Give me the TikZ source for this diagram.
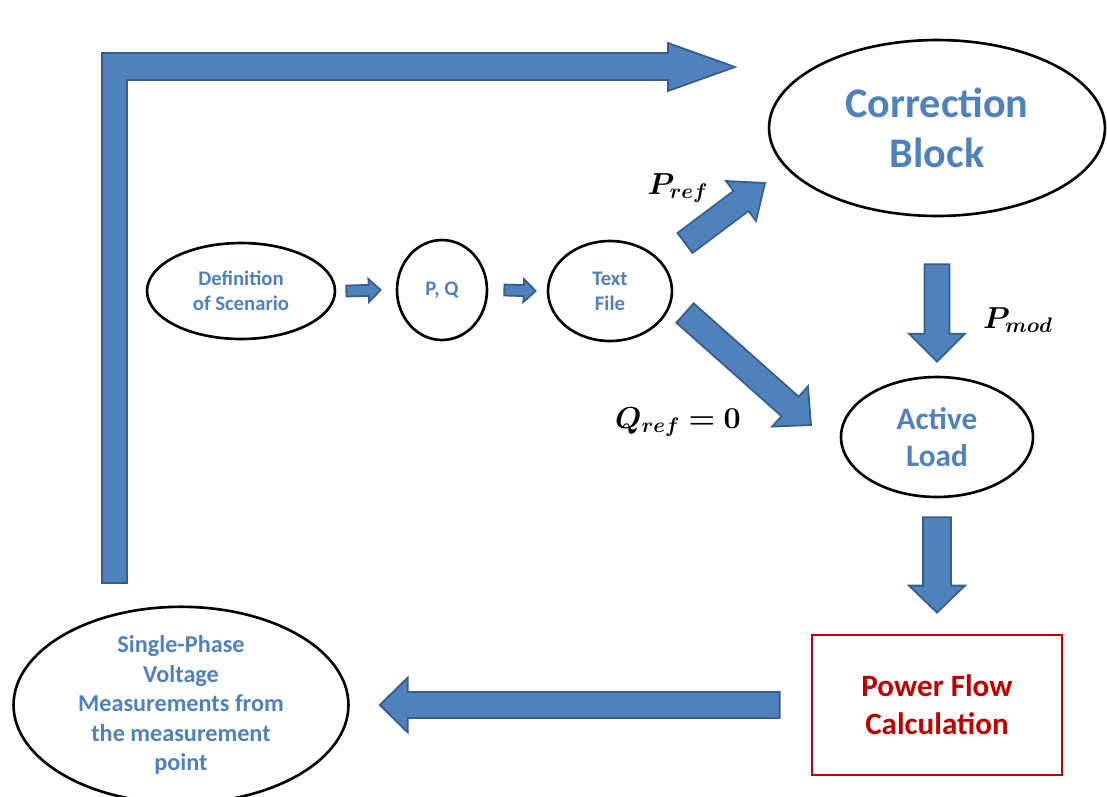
\documentclass[tikz,border=0pt]{standalone}
\usepackage{amsmath,bm}
\usepackage{fontspec}
\setmainfont{Carlito}
\usepackage{tikz}
\usetikzlibrary{calc, shapes.geometric}
\definecolor{OfficeBlue}{HTML}{4F81BD}
\definecolor{OfficeEdge}{HTML}{385D8A}
\definecolor{OfficeRed}{HTML}{C00000}

\tikzset{
  bubble/.style={ellipse, draw=black, line width=1.5pt, inner sep=0pt,
    align=center, text=OfficeBlue, font=\bfseries},
  fatarrow/.style={fill=OfficeBlue, draw=OfficeEdge, line width=1pt, line join=miter},
  mathlabel/.style={font=\fontsize{17.5}{20}\selectfont, inner sep=0pt}
}

% block arrow: from, to, shaft half width, head half width, head length
\newcommand{\blockarrow}[5]{%
  \coordinate (ba-s) at (#1);
  \coordinate (ba-t) at (#2);
  \coordinate (ba-h) at ($(ba-t)!#5!(ba-s)$);
  \filldraw[fatarrow] ($(ba-s)!#3!90:(ba-t)$) -- ($(ba-h)!#3!90:(ba-t)$)
    -- ($(ba-h)!#4!90:(ba-t)$) -- (ba-t) -- ($(ba-h)!#4!-90:(ba-t)$)
    -- ($(ba-h)!#3!-90:(ba-t)$) -- ($(ba-s)!#3!-90:(ba-t)$) -- cycle;
}

\begin{document}
\begin{tikzpicture}[x=0.02cm, y=-0.02cm]
  \useasboundingbox (0,0) rectangle (1107,796);

  % nodes
  \node[bubble, minimum width=6.72cm, minimum height=3.52cm,
    font=\bfseries\fontsize{24}{28.5}\selectfont] (corr) at (937,128) {Correction\\Block};
  \node[bubble, minimum width=3.76cm, minimum height=1.92cm,
    font=\bfseries\fontsize{11.8}{14.2}\selectfont] (scen) at (241,291) {Definition\\of Scenario};
  \node[bubble, minimum width=1.8cm, minimum height=2cm,
    font=\bfseries\fontsize{11.8}{14.2}\selectfont] (pq) at (442,290) {P, Q};
  \node[bubble, minimum width=2.48cm, minimum height=2cm,
    font=\bfseries\fontsize{11.8}{14.2}\selectfont] (txt) at (610,291) {Text\\File};
  \node[bubble, minimum width=3.84cm, minimum height=2.4cm,
    font=\bfseries\fontsize{17.8}{21.3}\selectfont] (load) at (937,437) {Active\\Load};
  \node[draw=OfficeRed, line width=1.6pt, minimum width=5cm, minimum height=2.8cm,
    align=center, text=OfficeRed, font=\bfseries\fontsize{17.7}{21.6}\selectfont]
    (pfc) at (937,705) {Power Flow\\Calculation};
  \node[bubble, minimum width=6.7cm, minimum height=3.68cm,
    font=\bfseries\fontsize{13.8}{16.8}\selectfont] (meas) at (181,705)
    {Single-Phase\\Voltage\\Measurements from\\the measurement\\point};

  % labels
  \node[mathlabel] (pref) at (678,188) {$\bm{P_{ref}}$};
  \node[mathlabel] (qref) at (678,422) {$\bm{Q_{ref}=0}$};
  \node[mathlabel] (pmod) at (1018,320) {$\bm{P_{mod}}$};

  % arrows
  \blockarrow{$(scen.east)+(10,0)$}{$(pq.west)+(-15,0)$}{0.11cm}{0.23cm}{0.24cm}
  \blockarrow{$(pq.east)+(16,0)$}{$(txt.west)+(-11,0)$}{0.11cm}{0.23cm}{0.24cm}
  \blockarrow{685,243}{765,183}{0.25cm}{0.5cm}{0.6cm}
  \blockarrow{685,313}{811,425}{0.26cm}{0.54cm}{0.56cm}
  \blockarrow{$(corr.south)+(0,47)$}{$(load.north)+(0,-14)$}{0.25cm}{0.56cm}{0.56cm}
  \blockarrow{$(load.south)+(0,19)$}{$(pfc.north)+(0,-21)$}{0.28cm}{0.56cm}{0.54cm}
  \blockarrow{$(pfc.west)+(-31,0)$}{$(meas.east)+(30,0)$}{0.26cm}{0.55cm}{0.56cm}

  % feedback arrow
  \filldraw[fatarrow] (102,583) -- (102,53) -- (668,53) -- (668,43) -- (735,67)
    -- (668,91) -- (668,80) -- (127,80) -- (127,583) -- cycle;
\end{tikzpicture}
\end{document}
